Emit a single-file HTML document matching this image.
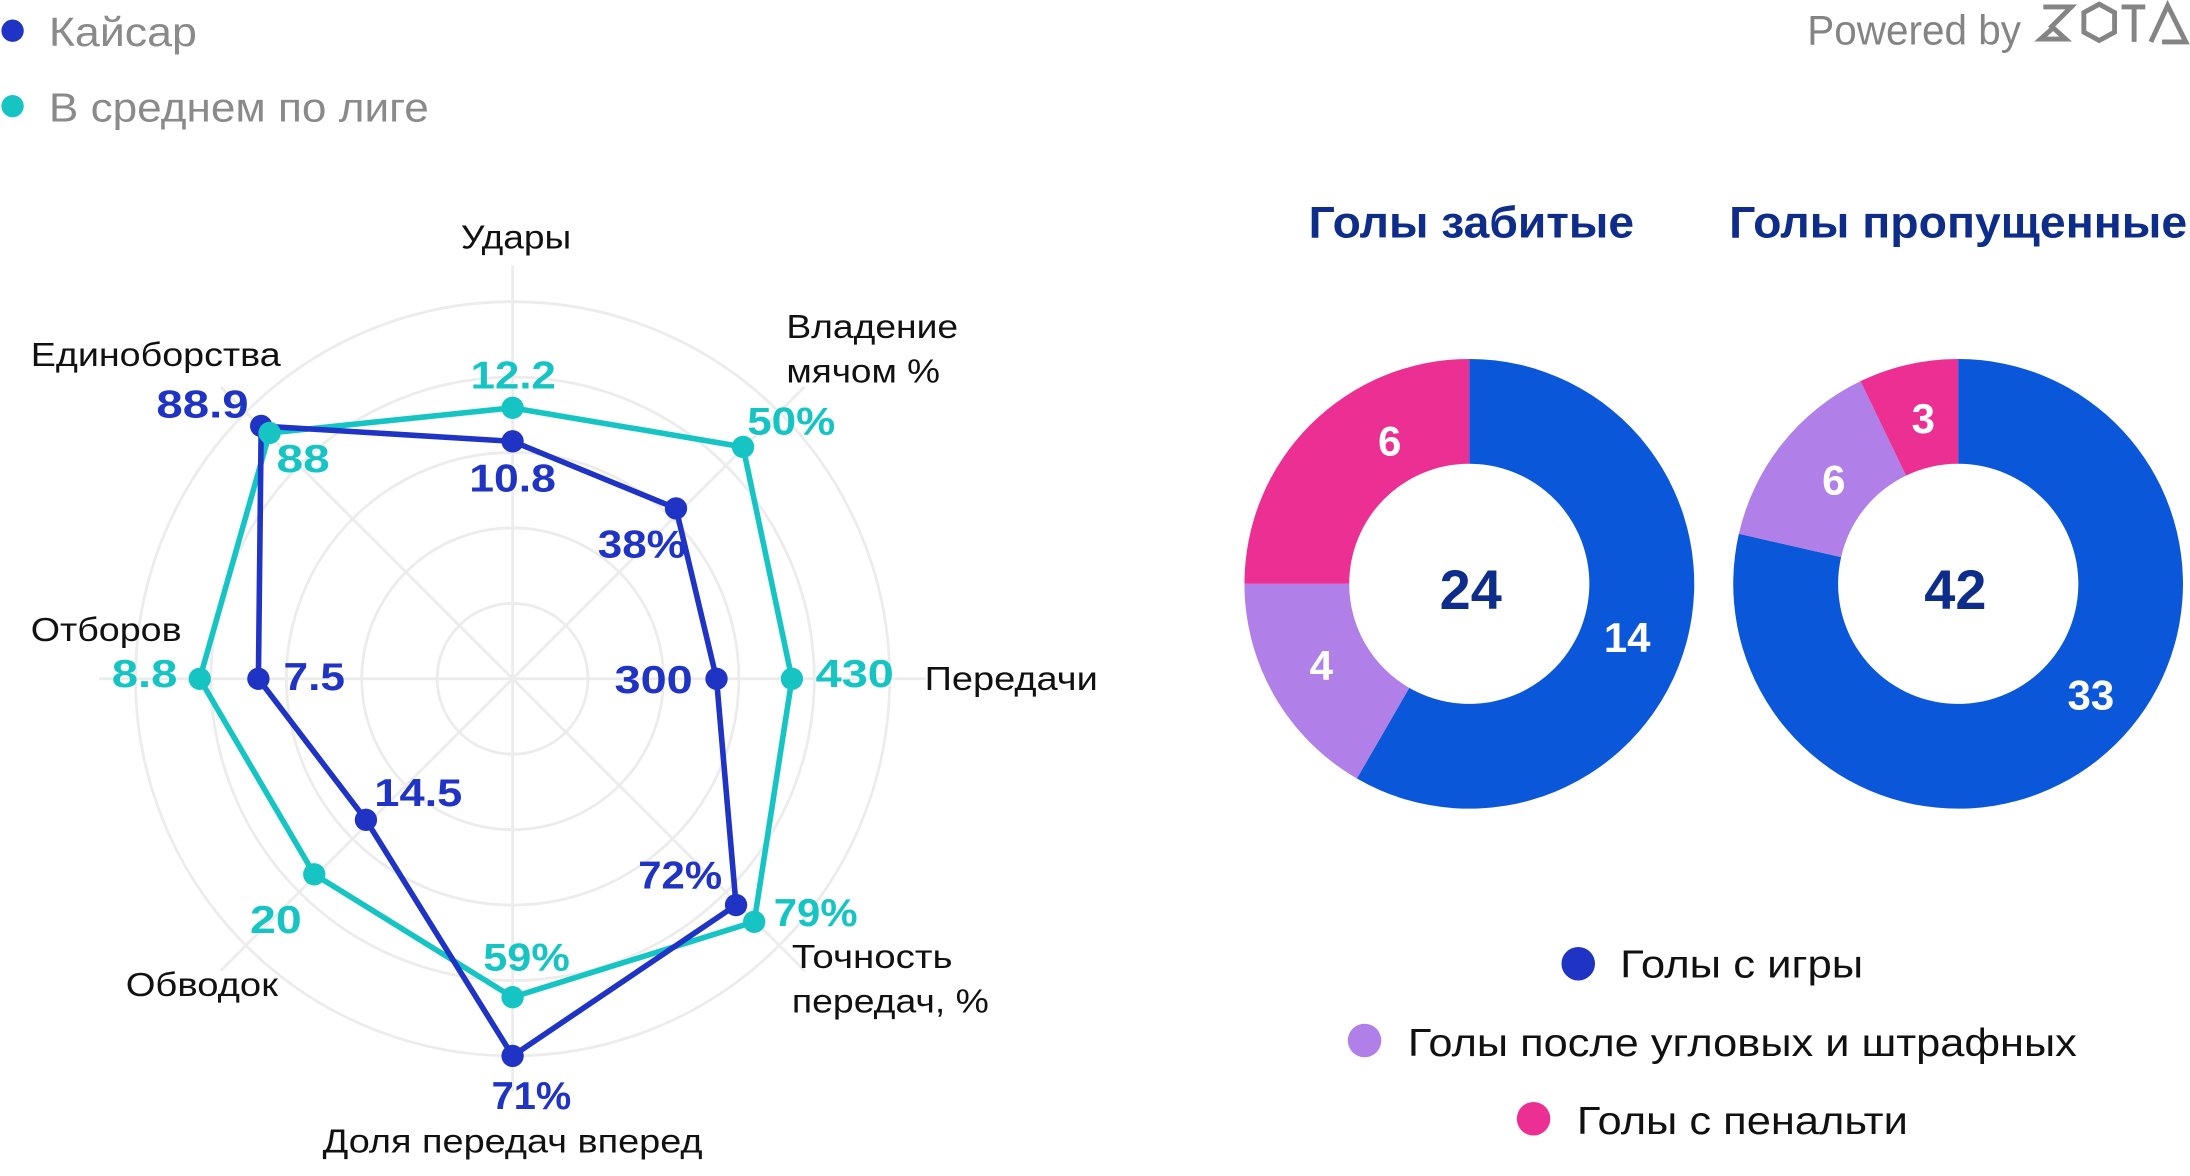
<!DOCTYPE html>
<html><head><meta charset="utf-8"><style>
html,body{margin:0;padding:0;background:#fff;}
svg{display:block;}
text{font-family:"Liberation Sans",sans-serif;}
</style></head><body>
<svg width="2190" height="1176" viewBox="0 0 1568 842" xmlns="http://www.w3.org/2000/svg">
<rect width="1568" height="842" fill="#fff"/>
<circle cx="9" cy="22" r="8" fill="#1f33c4"/>
<text x="35" y="33" font-size="29" fill="#8a8a8a" textLength="106" lengthAdjust="spacingAndGlyphs">Кайсар</text>
<circle cx="9" cy="76" r="8" fill="#16c4c4"/>
<text x="35" y="87" font-size="29" fill="#8a8a8a" textLength="272" lengthAdjust="spacingAndGlyphs">В среднем по лиге</text>
<text x="1447" y="32" font-size="30" fill="#848484" text-anchor="end" textLength="153" lengthAdjust="spacingAndGlyphs">Powered by</text>
<g fill="none" stroke="#848484" stroke-width="3.5">
<path d="M1463,5 H1483 L1469,19 L1479,28 H1461 L1471,19"/>
<path d="M1503,3 L1514,9 V23 L1503,29 L1492,23 V9 Z"/>
<path d="M1519,5 H1536 M1528,5 V30"/>
<path d="M1540,30 L1552,4 L1565,30 H1548"/>
</g>
<g fill="none" stroke="#ececec" stroke-width="2">
<circle cx="367" cy="486" r="54"/><circle cx="367" cy="486" r="108"/>
<circle cx="367" cy="486" r="162"/><circle cx="367" cy="486" r="216"/>
<circle cx="367" cy="486" r="270"/>
<line x1="367" y1="190" x2="367" y2="782"/><line x1="71" y1="486" x2="663" y2="486"/>
<line x1="158" y1="277" x2="576" y2="695"/><line x1="576" y1="277" x2="158" y2="695"/>
</g>
<g stroke-width="4" fill="none" stroke-linejoin="round">
<polygon points="367,292 532,320 567,486 540,660 367,714 225,626 143,486 193,310" stroke="#16c4c4"/>
<polygon points="367,316 484,364 513,486 527,648 367,756 262,587 185,486 187,305" stroke="#1f33c4"/>
</g>
<g fill="#1f33c4">
<circle cx="367" cy="316" r="8"/><circle cx="484" cy="364" r="8"/><circle cx="513" cy="486" r="8"/><circle cx="527" cy="648" r="8"/><circle cx="367" cy="756" r="8"/><circle cx="262" cy="587" r="8"/><circle cx="185" cy="486" r="8"/><circle cx="187" cy="305" r="8"/>
</g>
<g fill="#16c4c4">
<circle cx="367" cy="292" r="8"/><circle cx="532" cy="320" r="8"/><circle cx="567" cy="486" r="8"/><circle cx="540" cy="660" r="8"/><circle cx="367" cy="714" r="8"/><circle cx="225" cy="626" r="8"/><circle cx="143" cy="486" r="8"/><circle cx="193" cy="310" r="8"/>
</g>
<g font-size="24" fill="#111" lengthAdjust="spacingAndGlyphs">
<text x="330" y="178" textLength="79" lengthAdjust="spacingAndGlyphs">Удары</text>
<text x="563" y="242" textLength="123" lengthAdjust="spacingAndGlyphs">Владение</text>
<text x="563" y="274" textLength="110" lengthAdjust="spacingAndGlyphs">мячом %</text>
<text x="662" y="494" textLength="124" lengthAdjust="spacingAndGlyphs">Передачи</text>
<text x="567" y="693" textLength="115" lengthAdjust="spacingAndGlyphs">Точность</text>
<text x="567" y="725" textLength="141" lengthAdjust="spacingAndGlyphs">передач, %</text>
<text x="231" y="825" textLength="272" lengthAdjust="spacingAndGlyphs">Доля передач вперед</text>
<text x="90" y="713" textLength="109" lengthAdjust="spacingAndGlyphs">Обводок</text>
<text x="22" y="459" textLength="108" lengthAdjust="spacingAndGlyphs">Отборов</text>
<text x="22" y="262" textLength="179" lengthAdjust="spacingAndGlyphs">Единоборства</text>
</g>
<g font-size="28" font-weight="bold" fill="#1f33c4">
<text x="336" y="352" textLength="62" lengthAdjust="spacingAndGlyphs">10.8</text>
<text x="428" y="399" textLength="63" lengthAdjust="spacingAndGlyphs">38%</text>
<text x="440" y="496" textLength="56" lengthAdjust="spacingAndGlyphs">300</text>
<text x="457" y="636" textLength="60" lengthAdjust="spacingAndGlyphs">72%</text>
<text x="352" y="794" textLength="57" lengthAdjust="spacingAndGlyphs">71%</text>
<text x="268" y="577" textLength="63" lengthAdjust="spacingAndGlyphs">14.5</text>
<text x="203" y="494" textLength="44" lengthAdjust="spacingAndGlyphs">7.5</text>
<text x="112" y="299" textLength="66" lengthAdjust="spacingAndGlyphs">88.9</text>
</g>
<g font-size="28" font-weight="bold" fill="#16c4c4">
<text x="337" y="278" textLength="61" lengthAdjust="spacingAndGlyphs">12.2</text>
<text x="535" y="311" textLength="63" lengthAdjust="spacingAndGlyphs">50%</text>
<text x="584" y="492" textLength="56" lengthAdjust="spacingAndGlyphs">430</text>
<text x="554" y="663" textLength="60" lengthAdjust="spacingAndGlyphs">79%</text>
<text x="346" y="695" textLength="62" lengthAdjust="spacingAndGlyphs">59%</text>
<text x="179" y="668" textLength="37" lengthAdjust="spacingAndGlyphs">20</text>
<text x="80" y="492" textLength="47" lengthAdjust="spacingAndGlyphs">8.8</text>
<text x="198" y="338" textLength="38" lengthAdjust="spacingAndGlyphs">88</text>
</g>
<text x="937" y="170" font-size="32" font-weight="bold" fill="#0e2d8a" textLength="233" lengthAdjust="spacingAndGlyphs">Голы забитые</text>
<text x="1238" y="170" font-size="32" font-weight="bold" fill="#0e2d8a" textLength="328" lengthAdjust="spacingAndGlyphs">Голы пропущенные</text>
<path d="M1052,257 A161,161 0 1 1 971.5,557.4 L1009,492.5 A86,86 0 1 0 1052,332 Z" fill="#0b57d9"/>
<path d="M971.5,557.4 A161,161 0 0 1 891,418 L966,418 A86,86 0 0 0 1009,492.5 Z" fill="#b07fe8"/>
<path d="M891,418 A161,161 0 0 1 1052,257 L1052,332 A86,86 0 0 0 966,418 Z" fill="#ec2f93"/>
<path d="M1402,257 A161,161 0 1 1 1245,382.2 L1318.2,398.9 A86,86 0 1 0 1402,332 Z" fill="#0b57d9"/>
<path d="M1245,382.2 A161,161 0 0 1 1332.1,272.9 L1364.7,340.5 A86,86 0 0 0 1318.2,398.9 Z" fill="#b07fe8"/>
<path d="M1332.1,272.9 A161,161 0 0 1 1402,257 L1402,332 A86,86 0 0 0 1364.7,340.5 Z" fill="#ec2f93"/>
<g font-size="40" font-weight="bold" fill="#0e2d8a" text-anchor="middle">
<text x="1053" y="436">24</text><text x="1400" y="436">42</text>
</g>
<g font-size="30" font-weight="bold" fill="#fff" text-anchor="middle">
<text x="1165" y="467">14</text><text x="946" y="487">4</text><text x="995" y="326">6</text>
<text x="1497" y="508">33</text><text x="1313" y="354">6</text><text x="1377" y="310">3</text>
</g>
<circle cx="1130" cy="690" r="12" fill="#1f33c4"/>
<text x="1160" y="700" font-size="28" fill="#111" textLength="174" lengthAdjust="spacingAndGlyphs">Голы с игры</text>
<circle cx="977" cy="745" r="12" fill="#b07fe8"/>
<text x="1008" y="756" font-size="28" fill="#111" textLength="479" lengthAdjust="spacingAndGlyphs">Голы после угловых и штрафных</text>
<circle cx="1098" cy="801" r="12" fill="#ec2f93"/>
<text x="1129" y="812" font-size="28" fill="#111" textLength="237" lengthAdjust="spacingAndGlyphs">Голы с пенальти</text>
</svg>
</body></html>
